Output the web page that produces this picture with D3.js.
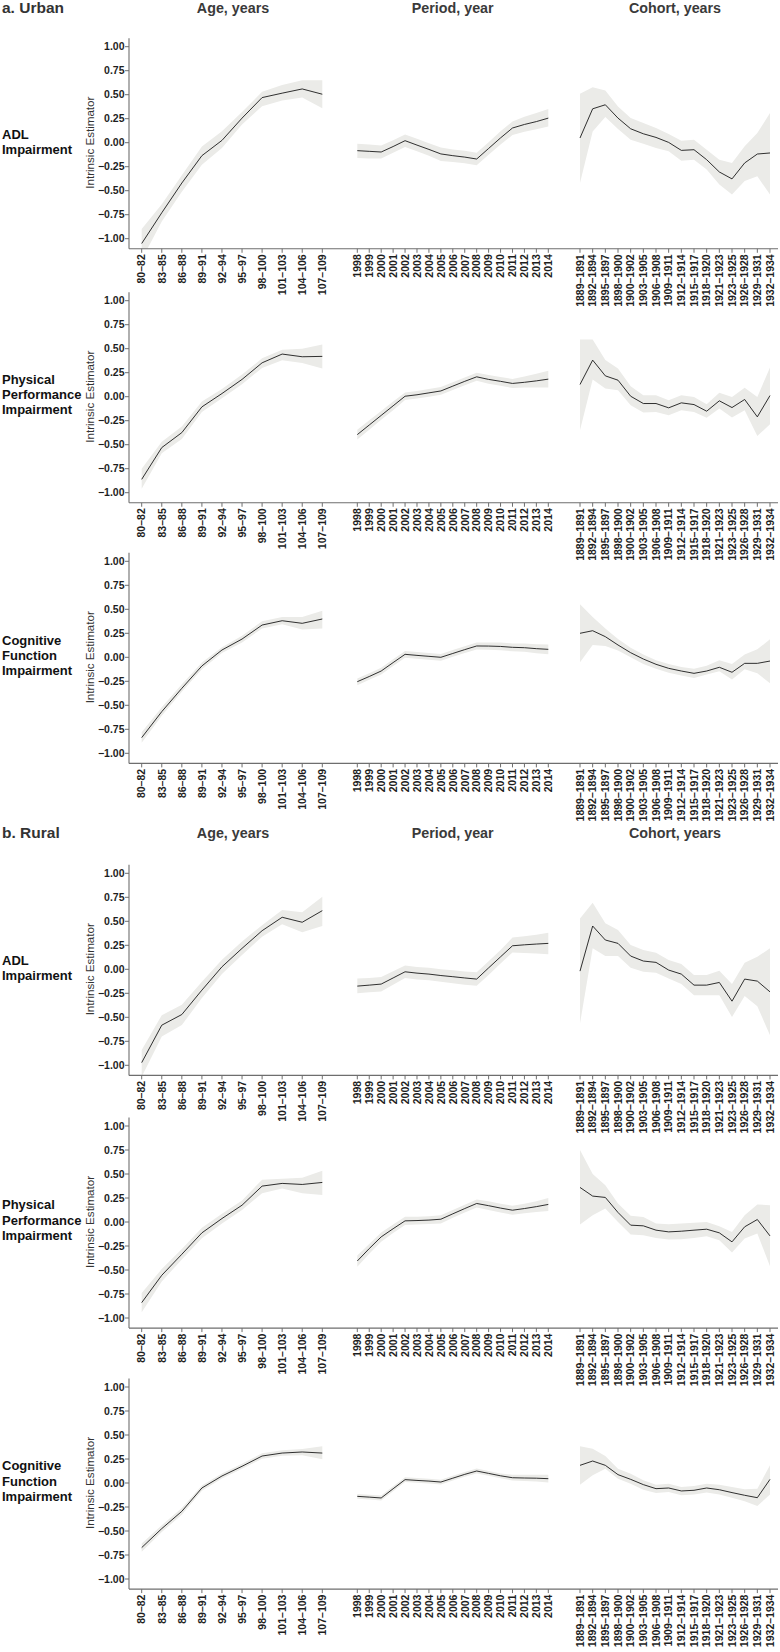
<!DOCTYPE html>
<html><head><meta charset="utf-8">
<script src="https://cdn.jsdelivr.net/npm/d3@7"></script>
<style>body{margin:0;background:#fff} text{font-family:"Liberation Sans",Arial,Helvetica,sans-serif}</style>
</head><body><svg id="c" width="780" height="1652"></svg>
<script>
// ---------- categories ----------
const ageCats = ["80–82","83–85","86–88","89–91","92–94","95–97","98–100","101–103","104–106","107–109"];
const periodCats = ["1998","1999","2000","2001","2002","2003","2004","2005","2006","2007","2008","2009","2010","2011","2012","2013","2014"];
const cohortCats = ["1889–1891","1892–1894","1895–1897","1898–1900","1900–1902","1903–1905","1906–1908","1909–1911","1912–1914","1915–1917","1918–1920","1921–1923","1923–1925","1926–1928","1929–1931","1932–1934"];
const yTicks = [-1,-0.75,-0.5,-0.25,0,0.25,0.5,0.75,1];
const panelTitles = ["Age, years","Period, year","Cohort, years"];
const sectionTitles = ["a. Urban","b. Rural"];
const rowLabels = [["ADL","Impairment"],["Physical","Performance","Impairment"],["Cognitive","Function","Impairment"]];
const yAxisTitle = "Intrinsic Estimator";

// ---------- Urban ADL ----------
const uAdlAgeEst = [-1.05,-0.73,-0.42,-0.135,0.024,0.256,0.47,0.516,0.56,0.505];
const uAdlAgeHi  = [-0.90,-0.64,-0.34,-0.04,0.12,0.32,0.53,0.60,0.65,0.65];
const uAdlAgeLo  = [-1.22,-0.82,-0.51,-0.23,-0.055,0.19,0.38,0.44,0.47,0.36];
const uAdlPerEst = [-0.083,-0.09,-0.097,-0.04,0.021,-0.025,-0.07,-0.117,-0.135,-0.15,-0.17,-0.06,0.05,0.153,0.19,0.22,0.256];
const uAdlPerHi  = [-0.01,-0.02,-0.03,0.025,0.085,0.04,-0.005,-0.05,-0.07,-0.085,-0.105,0.005,0.12,0.22,0.27,0.31,0.35];
const uAdlPerLo  = [-0.16,-0.165,-0.165,-0.105,-0.045,-0.09,-0.135,-0.19,-0.2,-0.215,-0.235,-0.125,-0.02,0.08,0.115,0.14,0.17];
const uAdlCohEst = [0.049,0.353,0.395,0.256,0.145,0.093,0.055,0.003,-0.08,-0.073,-0.177,-0.305,-0.377,-0.211,-0.118,-0.107];
const uAdlCohHi  = [0.509,0.578,0.543,0.377,0.256,0.204,0.152,0.09,0.02,0.03,-0.073,-0.177,-0.211,-0.038,0.1,0.31];
const uAdlCohLo  = [-0.419,0.117,0.267,0.142,0.031,-0.01,-0.055,-0.09,-0.187,-0.177,-0.28,-0.436,-0.54,-0.40,-0.35,-0.54];
// ---------- Urban Physical ----------
const uPhyAgeEst = [-0.861,-0.53,-0.374,-0.106,0.033,0.18,0.353,0.444,0.416,0.42];
const uPhyAgeHi  = [-0.75,-0.47,-0.31,-0.05,0.08,0.23,0.40,0.49,0.50,0.545];
const uPhyAgeLo  = [-0.96,-0.59,-0.44,-0.16,-0.015,0.13,0.30,0.38,0.35,0.294];
const uPhyPerEst = [-0.395,-0.295,-0.195,-0.095,0.005,0.02,0.04,0.06,0.11,0.16,0.207,0.18,0.16,0.138,0.15,0.165,0.183];
const uPhyPerHi  = [-0.345,-0.245,-0.15,-0.05,0.045,0.06,0.08,0.10,0.15,0.2,0.25,0.225,0.205,0.185,0.21,0.24,0.27];
const uPhyPerLo  = [-0.445,-0.345,-0.24,-0.14,-0.035,-0.02,0.0,0.02,0.07,0.12,0.165,0.135,0.115,0.09,0.095,0.095,0.096];
const uPhyCohEst = [0.127,0.381,0.217,0.172,0.005,-0.071,-0.071,-0.116,-0.064,-0.082,-0.151,-0.043,-0.113,-0.029,-0.21,0.012];
const uPhyCohHi  = [0.597,0.597,0.381,0.294,0.11,0.016,0.016,-0.037,0.016,-0.003,-0.078,0.04,-0.002,0.092,-0.002,0.305];
const uPhyCohLo  = [-0.35,0.18,0.085,0.068,-0.089,-0.165,-0.16,-0.193,-0.14,-0.16,-0.22,-0.123,-0.217,-0.141,-0.41,-0.287];
// ---------- Urban Cognitive ----------
const uCogAgeEst = [-0.837,-0.566,-0.323,-0.09,0.076,0.19,0.336,0.381,0.354,0.399];
const uCogAgeHi  = [-0.78,-0.52,-0.28,-0.055,0.105,0.225,0.375,0.42,0.42,0.485];
const uCogAgeLo  = [-0.89,-0.61,-0.36,-0.125,0.045,0.155,0.3,0.345,0.29,0.30];
const uCogPerEst = [-0.254,-0.2,-0.143,-0.055,0.031,0.02,0.01,0.0,0.04,0.08,0.118,0.117,0.113,0.104,0.1,0.09,0.083];
const uCogPerHi  = [-0.22,-0.165,-0.108,-0.02,0.066,0.055,0.045,0.035,0.075,0.115,0.155,0.155,0.153,0.145,0.143,0.137,0.133];
const uCogPerLo  = [-0.29,-0.235,-0.178,-0.09,-0.004,-0.015,-0.025,-0.035,0.005,0.045,0.08,0.079,0.073,0.063,0.057,0.043,0.033];
const uCogCohEst = [0.25,0.277,0.215,0.128,0.048,-0.018,-0.073,-0.115,-0.143,-0.167,-0.143,-0.104,-0.156,-0.063,-0.063,-0.039];
const uCogCohHi  = [0.552,0.42,0.30,0.19,0.10,0.03,-0.03,-0.07,-0.10,-0.118,-0.087,-0.031,-0.07,0.03,0.083,0.187];
const uCogCohLo  = [-0.052,0.128,0.118,0.07,0.0,-0.07,-0.12,-0.16,-0.19,-0.215,-0.18,-0.146,-0.23,-0.125,-0.167,-0.271];
// ---------- Rural ADL ----------
const rAdlAgeEst = [-0.972,-0.582,-0.471,-0.217,0.026,0.218,0.402,0.542,0.49,0.611];
const rAdlAgeHi  = [-0.84,-0.478,-0.37,-0.13,0.10,0.29,0.46,0.618,0.594,0.757];
const rAdlAgeLo  = [-1.12,-0.70,-0.58,-0.30,-0.05,0.15,0.34,0.47,0.385,0.451];
const rAdlPerEst = [-0.175,-0.165,-0.154,-0.09,-0.026,-0.04,-0.05,-0.065,-0.077,-0.09,-0.102,0.015,0.13,0.245,0.255,0.263,0.27];
const rAdlPerHi  = [-0.095,-0.09,-0.08,-0.02,0.04,0.025,0.015,0.0,-0.01,-0.022,-0.032,0.085,0.2,0.33,0.345,0.36,0.38];
const rAdlPerLo  = [-0.25,-0.24,-0.23,-0.16,-0.09,-0.105,-0.115,-0.13,-0.145,-0.16,-0.172,-0.06,0.06,0.176,0.17,0.165,0.158];
const rAdlCohEst = [-0.019,0.451,0.305,0.27,0.138,0.086,0.072,-0.008,-0.05,-0.165,-0.165,-0.137,-0.332,-0.102,-0.123,-0.235];
const rAdlCohHi  = [0.53,0.694,0.479,0.409,0.253,0.2,0.172,0.096,0.054,-0.06,-0.06,-0.016,-0.154,0.068,0.13,0.218];
const rAdlCohLo  = [-0.565,0.218,0.138,0.138,0.016,-0.026,-0.036,-0.095,-0.154,-0.27,-0.27,-0.27,-0.496,-0.277,-0.384,-0.687];
// ---------- Rural Physical ----------
const rPhyAgeEst = [-0.84,-0.555,-0.336,-0.113,0.036,0.175,0.374,0.402,0.391,0.412];
const rPhyAgeHi  = [-0.74,-0.49,-0.28,-0.06,0.085,0.225,0.44,0.45,0.46,0.533];
const rPhyAgeLo  = [-0.94,-0.62,-0.39,-0.17,-0.015,0.125,0.30,0.35,0.30,0.28];
const rPhyPerEst = [-0.406,-0.277,-0.155,-0.07,0.012,0.015,0.02,0.029,0.085,0.14,0.193,0.17,0.145,0.123,0.14,0.16,0.183];
const rPhyPerHi  = [-0.35,-0.23,-0.11,-0.025,0.055,0.055,0.06,0.07,0.125,0.18,0.235,0.215,0.19,0.17,0.19,0.215,0.25];
const rPhyPerLo  = [-0.465,-0.33,-0.205,-0.115,-0.03,-0.025,-0.02,-0.015,0.045,0.1,0.15,0.125,0.1,0.075,0.09,0.105,0.115];
const rPhyCohEst = [0.36,0.27,0.256,0.099,-0.033,-0.04,-0.085,-0.103,-0.096,-0.085,-0.075,-0.113,-0.207,-0.05,0.026,-0.145];
const rPhyCohHi  = [0.75,0.5,0.384,0.193,0.064,0.053,-0.016,-0.023,-0.016,-0.009,0.001,-0.044,-0.103,0.071,0.183,0.175];
const rPhyCohLo  = [-0.026,0.071,0.14,0.0,-0.13,-0.138,-0.166,-0.183,-0.18,-0.166,-0.148,-0.19,-0.319,-0.172,-0.12,-0.46];
// ---------- Rural Cognitive ----------
const rCogAgeEst = [-0.673,-0.475,-0.295,-0.052,0.073,0.174,0.281,0.312,0.323,0.312];
const rCogAgeHi  = [-0.63,-0.44,-0.26,-0.025,0.1,0.2,0.31,0.34,0.355,0.382];
const rCogAgeLo  = [-0.715,-0.51,-0.33,-0.08,0.046,0.148,0.252,0.284,0.29,0.247];
const rCogPerEst = [-0.139,-0.147,-0.156,-0.06,0.035,0.027,0.02,0.01,0.05,0.09,0.125,0.1,0.075,0.055,0.052,0.05,0.045];
const rCogPerHi  = [-0.114,-0.122,-0.13,-0.035,0.06,0.052,0.045,0.035,0.075,0.115,0.15,0.125,0.1,0.085,0.085,0.085,0.085];
const rCogPerLo  = [-0.164,-0.172,-0.182,-0.085,0.01,0.002,-0.005,-0.015,0.025,0.065,0.1,0.075,0.05,0.025,0.02,0.015,0.005];
const rCogCohEst = [0.184,0.229,0.184,0.087,0.038,-0.017,-0.059,-0.052,-0.083,-0.076,-0.052,-0.07,-0.1,-0.128,-0.153,0.038];
const rCogCohHi  = [0.382,0.357,0.281,0.149,0.097,0.028,-0.017,-0.007,-0.042,-0.031,-0.007,-0.017,-0.042,-0.066,-0.059,0.184];
const rCogCohLo  = [-0.017,0.08,0.149,0.045,-0.007,-0.07,-0.104,-0.094,-0.128,-0.121,-0.1,-0.121,-0.153,-0.19,-0.24,-0.121];

// ---------- assemble ----------
const rows = [
  {label:0, age:[uAdlAgeEst,uAdlAgeLo,uAdlAgeHi], per:[uAdlPerEst,uAdlPerLo,uAdlPerHi], coh:[uAdlCohEst,uAdlCohLo,uAdlCohHi]},
  {label:1, age:[uPhyAgeEst,uPhyAgeLo,uPhyAgeHi], per:[uPhyPerEst,uPhyPerLo,uPhyPerHi], coh:[uPhyCohEst,uPhyCohLo,uPhyCohHi]},
  {label:2, age:[uCogAgeEst,uCogAgeLo,uCogAgeHi], per:[uCogPerEst,uCogPerLo,uCogPerHi], coh:[uCogCohEst,uCogCohLo,uCogCohHi]},
  {label:0, age:[rAdlAgeEst,rAdlAgeLo,rAdlAgeHi], per:[rAdlPerEst,rAdlPerLo,rAdlPerHi], coh:[rAdlCohEst,rAdlCohLo,rAdlCohHi]},
  {label:1, age:[rPhyAgeEst,rPhyAgeLo,rPhyAgeHi], per:[rPhyPerEst,rPhyPerLo,rPhyPerHi], coh:[rPhyCohEst,rPhyCohLo,rPhyCohHi]},
  {label:2, age:[rCogAgeEst,rCogAgeLo,rCogAgeHi], per:[rCogPerEst,rCogPerLo,rCogPerHi], coh:[rCogCohEst,rCogCohLo,rCogCohHi]}
];

// ---------- layout ----------
const rowTop = [46.7, 300.7, 561.3, 873.3, 1126, 1387]; // pixel y of value 1.00
const unitPx = 96;
const axisX0 = 129, axisX1 = 778;
const sectionBaseline = [13, 838];
const xAge = d3.scalePoint().domain(ageCats).range([141.7, 322.3]);
const xPer = d3.scalePoint().domain(periodCats).range([357.3, 548.3]);
const xCoh = d3.scalePoint().domain(cohortCats).range([580, 770]);
const panelCenters = [233, 452.7, 675];

const svg = d3.select("#c");
const fmt = d3.format(".2f");
const axisCol = "#6e6e6e", tickTxt = "#1e1e1e", bandCol = "#ebebe8", lineCol = "#1a1a1a";

// section & panel titles
sectionTitles.forEach((t,i)=>{
  svg.append("text").attr("x",2).attr("y",sectionBaseline[i]).attr("font-size",15.5).attr("font-weight","bold").attr("fill","#333").text(t);
  panelTitles.forEach((p,j)=>{
    svg.append("text").attr("x",panelCenters[j]).attr("y",sectionBaseline[i]-0.5).attr("text-anchor","middle")
      .attr("font-size",14.3).attr("font-weight","bold").attr("fill","#3a3a3a").text(p);
  });
});

rows.forEach((row,ri)=>{
  const y = d3.scaleLinear().domain([-1,1]).range([rowTop[ri]+2*unitPx, rowTop[ri]]);
  const axisY = y(-1.105), topY = y(1.088);
  const g = svg.append("g");
  const cid = "clip"+ri;
  svg.append("clipPath").attr("id",cid).append("rect").attr("x",axisX0).attr("y",topY).attr("width",axisX1-axisX0).attr("height",axisY-topY);

  // row label
  const lines = rowLabels[row.label];
  const y0 = y(0);
  lines.forEach((l,k)=>{
    g.append("text").attr("x",2).attr("y",y0 - (lines.length-1)*7.6 + k*15.2 + (lines.length===2?3.5:2.5))
      .attr("font-size",13).attr("font-weight","bold").attr("fill","#111").text(l);
  });
  // y title
  g.append("text").attr("transform",`translate(94,${y0}) rotate(-90)`).attr("text-anchor","middle")
    .attr("font-size",11.6).attr("fill","#333").text(yAxisTitle);

  // bands & lines
  const panels = [[xAge,ageCats,row.age],[xPer,periodCats,row.per],[xCoh,cohortCats,row.coh]];
  const pg = g.append("g").attr("clip-path",`url(#${cid})`);
  panels.forEach(([xs,cats,[est,lo,hi]])=>{
    const area = d3.area().x((d,i)=>xs(cats[i])).y0((d,i)=>y(lo[i])).y1((d,i)=>y(hi[i]));
    pg.append("path").attr("d",area(est)).attr("fill",bandCol);
    const line = d3.line().x((d,i)=>xs(cats[i])).y(d=>y(d));
    pg.append("path").attr("d",line(est)).attr("fill","none").attr("stroke",lineCol).attr("stroke-width",0.9);
  });

  // y axis
  g.append("line").attr("x1",axisX0).attr("x2",axisX0).attr("y1",topY).attr("y2",axisY).attr("stroke",axisCol).attr("stroke-width",1.1);
  yTicks.forEach(t=>{
    g.append("line").attr("x1",axisX0-4).attr("x2",axisX0).attr("y1",y(t)).attr("y2",y(t)).attr("stroke",axisCol);
    g.append("text").attr("x",axisX0-4.5).attr("y",y(t)).attr("dy","0.35em").attr("text-anchor","end")
      .attr("font-size",10.5).attr("font-weight","bold").attr("fill",tickTxt).text(fmt(t));
  });
  // x axis
  g.append("line").attr("x1",axisX0).attr("x2",axisX1).attr("y1",axisY).attr("y2",axisY).attr("stroke",axisCol).attr("stroke-width",1.1);
  panels.forEach(([xs,cats])=>{
    cats.forEach(c=>{
      const x = xs(c);
      g.append("line").attr("x1",x).attr("x2",x).attr("y1",axisY).attr("y2",axisY+4).attr("stroke",axisCol);
      g.append("text").attr("transform",`translate(${x},${axisY+5.5}) rotate(-90)`).attr("dy","0.36em").attr("text-anchor","end")
        .attr("font-size",10.5).attr("font-weight","bold").attr("fill",tickTxt).text(c);
    });
  });
});
</script></body></html>
